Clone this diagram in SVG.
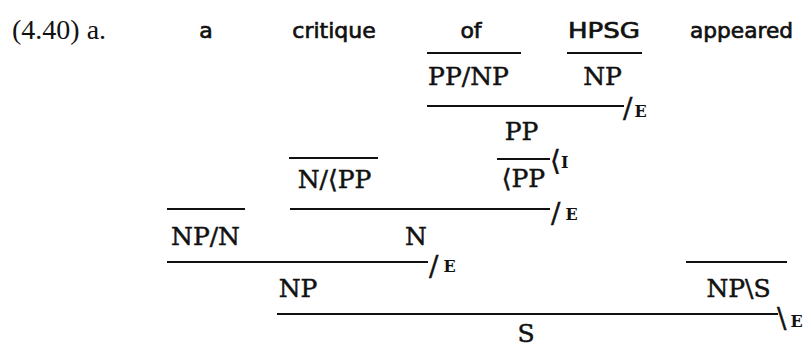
<svg xmlns="http://www.w3.org/2000/svg" width="811" height="348" viewBox="0 0 811 348">
<style>
.w{font-family:"DejaVu Sans",sans-serif;font-size:22px;fill:#111;stroke:#111;stroke-width:0.7;text-anchor:middle}
.c{font-family:"DejaVu Serif",serif;font-size:25px;fill:#111;stroke:#111;stroke-width:0.5;text-anchor:middle}
.ex{font-family:"Liberation Serif",serif;font-size:28px;fill:#111}
.r{font-family:"DejaVu Serif",serif;font-size:28px;fill:#111;stroke:#111;stroke-width:0.4}
.sc{font-size:16px;font-weight:bold;stroke-width:0}
line{stroke:#111;stroke-width:2.2}
</style>
<rect width="811" height="348" fill="#fff"/>
<text class="ex" x="12" y="39">(4.40) a.</text>
<g id="w-a"><text class="w" x="206" y="38">a</text></g>
<g id="w-critique"><text class="w" x="334" y="38">critique</text></g>
<g id="w-of"><text class="w" x="471" y="38">of</text></g>
<g id="w-HPSG"><text class="w" x="604" y="38" textLength="72" lengthAdjust="spacingAndGlyphs">HPSG</text></g>
<g id="w-appeared"><text class="w" x="741.5" y="38" textLength="103" lengthAdjust="spacingAndGlyphs">appeared</text></g>
<g id="n-ppnp"><text class="c" x="468.5" y="85">PP/NP</text></g>
<g id="n-np1"><text class="c" x="602.5" y="85">NP</text></g>
<g id="n-pp"><text class="c" x="521.5" y="140">PP</text></g>
<g id="n-hpp"><text class="c" x="523.5" y="187">⟨PP</text></g>
<g id="n-nhpp"><text class="c" x="334.5" y="188">N/⟨PP</text></g>
<g id="n-npn"><text class="c" x="205.5" y="245">NP/N</text></g>
<g id="n-n"><text class="c" x="416" y="245">N</text></g>
<g id="n-np2"><text class="c" x="298" y="297">NP</text></g>
<g id="n-nps"><text class="c" x="738.5" y="297">NP\S</text></g>
<g id="n-s"><text class="c" x="526" y="342">S</text></g>
<g id="connectors">
<line x1="427" y1="53" x2="521" y2="53"/>
<line x1="567" y1="53" x2="642" y2="53"/>
<line x1="427" y1="106" x2="624" y2="106"/>
<line x1="497" y1="159" x2="550" y2="159"/>
<line x1="289" y1="158" x2="378" y2="158"/>
<line x1="290" y1="209" x2="550" y2="209"/>
<line x1="167" y1="209" x2="245" y2="209"/>
<line x1="167" y1="262" x2="428" y2="262"/>
<line x1="686" y1="262" x2="787" y2="262"/>
<line x1="277" y1="314" x2="778" y2="314"/>
<text class="r" x="623" y="118">/<tspan class="sc" dx="2" dy="-1">E</tspan></text>
<text class="r" x="550" y="170">⟨<tspan class="sc" dx="0" dy="-2">I</tspan></text>
<text class="r" x="551" y="223">/<tspan class="sc" dx="5" dy="-3">E</tspan></text>
<text class="r" x="429" y="276">/<tspan class="sc" dx="5" dy="-4">E</tspan></text>
<text class="r" x="777" y="328">\<tspan class="sc" dx="4" dy="-1">E</tspan></text>
</g>
</svg>
